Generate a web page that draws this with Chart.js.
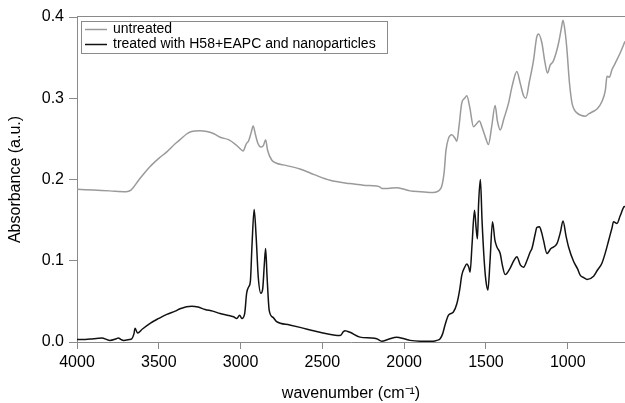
<!DOCTYPE html>
<html>
<head>
<meta charset="utf-8">
<script src="https://cdn.jsdelivr.net/npm/chart.js@4/dist/chart.umd.min.js"></script>
<style>
html,body{margin:0;padding:0;background:#fff;}
canvas{display:block;}
</style>
</head>
<body>
<canvas id="c" width="625" height="403"></canvas>
<script>
// ---- data ----
const seriesLabels = ["untreated", "treated with H58+EAPC and nanoparticles"];

const untreatedWavenumber = [4000,3900,3800,3700,3670,3620,3553,3500,3451,3400,3370,3330,3300,3250,3206,3160,3125,3074,3030,2992,2985,2965,2950,2935,2923,2910,2895,2875,2860,2847,2835,2810,2780,2739,2637,2550,2453,2331,2250,2168,2150,2137,2100,2045,2000,1964,1900,1821,1790,1770,1755,1745,1730,1709,1690,1678,1665,1648,1630,1617,1600,1576,1560,1540,1525,1515,1500,1485,1465,1444,1430,1413,1390,1362,1340,1311,1290,1270,1256,1235,1209,1190,1179,1158,1140,1124,1107,1090,1071,1056,1040,1029,1015,1005,990,974,960,944,920,893,870,842,820,791,770,760,745,730,710,679,650];
const untreatedAbsorbance = [0.188,0.187,0.186,0.185,0.187,0.200,0.216,0.226,0.234,0.244,0.249,0.256,0.259,0.260,0.259,0.256,0.252,0.249,0.243,0.236,0.235,0.244,0.248,0.258,0.266,0.256,0.245,0.240,0.242,0.249,0.236,0.224,0.220,0.218,0.213,0.206,0.199,0.195,0.193,0.192,0.191,0.189,0.189,0.190,0.188,0.186,0.185,0.184,0.186,0.192,0.210,0.235,0.250,0.255,0.251,0.247,0.265,0.294,0.300,0.303,0.290,0.265,0.268,0.272,0.265,0.259,0.250,0.243,0.265,0.291,0.272,0.261,0.275,0.294,0.315,0.333,0.318,0.303,0.300,0.320,0.347,0.375,0.379,0.368,0.345,0.331,0.341,0.345,0.356,0.368,0.385,0.396,0.380,0.360,0.320,0.294,0.286,0.282,0.279,0.278,0.281,0.284,0.287,0.296,0.310,0.327,0.326,0.335,0.343,0.356,0.370];

const treatedWavenumber = [4000,3950,3900,3849,3800,3760,3747,3730,3716,3680,3665,3652,3645,3630,3600,3553,3500,3451,3400,3370,3298,3260,3217,3170,3125,3080,3043,3023,3006,2992,2975,2963,2950,2940,2930,2917,2905,2892,2876,2865,2855,2847,2838,2825,2800,2780,2700,2637,2515,2392,2370,2362,2345,2331,2270,2200,2168,2137,2100,2045,2000,1964,1903,1821,1800,1780,1765,1750,1729,1699,1678,1660,1648,1630,1617,1605,1597,1585,1570,1560,1552,1545,1534,1524,1511,1500,1488,1475,1460,1445,1433,1413,1400,1383,1352,1330,1311,1290,1270,1250,1229,1219,1200,1189,1173,1160,1148,1127,1103,1066,1045,1029,1010,995,964,940,923,900,882,842,820,791,770,750,730,720,699,680,658,650];
const treatedAbsorbance = [0.003,0.003,0.004,0.005,0.002,0.004,0.005,0.003,0.002,0.003,0.004,0.010,0.017,0.011,0.016,0.023,0.029,0.034,0.038,0.041,0.044,0.043,0.040,0.038,0.035,0.033,0.031,0.029,0.033,0.029,0.035,0.060,0.068,0.075,0.120,0.163,0.130,0.080,0.060,0.065,0.095,0.115,0.080,0.039,0.030,0.025,0.021,0.018,0.012,0.008,0.013,0.014,0.013,0.012,0.006,0.005,0.004,0.001,0.003,0.006,0.004,0.002,0.001,0.001,0.002,0.004,0.010,0.021,0.033,0.037,0.047,0.065,0.082,0.092,0.096,0.092,0.086,0.120,0.162,0.140,0.127,0.170,0.200,0.150,0.101,0.075,0.064,0.100,0.148,0.125,0.117,0.109,0.095,0.083,0.091,0.100,0.105,0.095,0.092,0.100,0.111,0.115,0.132,0.141,0.142,0.135,0.125,0.109,0.115,0.121,0.135,0.149,0.130,0.117,0.099,0.090,0.082,0.079,0.077,0.081,0.088,0.097,0.110,0.125,0.140,0.148,0.146,0.155,0.166,0.167];

const xTicks = [4000,3500,3000,2500,2000,1500,1000];
const yTicks = [0.0,0.1,0.2,0.3,0.4];
const xTitle = "wavenumber (cm\u207B\u00B9)";
const yTitle = "Absorbance (a.u.)";

// ---- chart ----
const FONT = "'Liberation Sans', Arial, Helvetica, sans-serif";
const AXIS = "#8a8a8a";
const colors = ["#9a9a9a", "#111111"];

function pts(xs, ys){ return xs.map((x,i)=>({x:x, y:ys[i]})); }

const frameLegend = {
  id: 'frameLegend',
  afterDraw(chart){
    const ctx = chart.ctx, a = chart.chartArea;
    ctx.save();
    ctx.strokeStyle = AXIS; ctx.lineWidth = 1;
    ctx.beginPath(); ctx.moveTo(a.left, a.top - 0.5); ctx.lineTo(a.right, a.top - 0.5); ctx.stroke();
    const bx = 81.5, by = 21.5, bw = 306, bh = 32;
    ctx.fillStyle = "#fff"; ctx.fillRect(bx, by, bw, bh);
    ctx.strokeStyle = AXIS; ctx.strokeRect(bx, by, bw, bh);
    ctx.font = "14px " + FONT; ctx.textBaseline = "middle"; ctx.fillStyle = "#000";
    chart.data.datasets.forEach((ds, i) => {
      const yy = 29.5 + i * 15;
      ctx.strokeStyle = ds.borderColor; ctx.lineWidth = 1.5;
      ctx.beginPath(); ctx.moveTo(85, yy); ctx.lineTo(107, yy); ctx.stroke();
      ctx.fillText(ds.label, 113, yy);
    });
    ctx.restore();
  }
};

new Chart(document.getElementById('c'), {
  type: 'line',
  data: {
    datasets: [
      { label: seriesLabels[0], data: pts(untreatedWavenumber, untreatedAbsorbance), borderColor: colors[0], borderWidth: 1.5, pointRadius: 0, cubicInterpolationMode: 'monotone', fill: false },
      { label: seriesLabels[1], data: pts(treatedWavenumber, treatedAbsorbance), borderColor: colors[1], borderWidth: 1.5, pointRadius: 0, cubicInterpolationMode: 'monotone', fill: false }
    ]
  },
  options: {
    responsive: false,
    animation: false,
    devicePixelRatio: 1,
    layout: { padding: { top: 17, right: 0, left: 0, bottom: 0 } },
    plugins: { legend: { display: false }, tooltip: { enabled: false } },
    scales: {
      x: {
        type: 'linear', reverse: true, min: 650, max: 4000,
        afterBuildTicks(s){ s.ticks = xTicks.map(v => ({value: v})); },
        afterFit(s){ s.height = 61; },
        ticks: { font: { family: FONT, size: 16 }, color: '#000', padding: 4, maxRotation: 0, autoSkip: false, callback: v => String(v) },
        grid: { display: true, drawOnChartArea: false, drawTicks: true, tickLength: 7, color: AXIS },
        border: { display: true, color: AXIS, width: 1 },
        title: { display: true, text: xTitle, font: { family: FONT, size: 16 }, color: '#000', padding: { top: 4, bottom: 0 } }
      },
      y: {
        type: 'linear', min: 0, max: 0.4,
        afterBuildTicks(s){ s.ticks = yTicks.map(v => ({value: v})); },
        afterFit(s){ s.width = 77; },
        ticks: { font: { family: FONT, size: 16 }, color: '#000', padding: 5, callback: v => Number(v).toFixed(1) },
        grid: { display: true, drawOnChartArea: false, drawTicks: true, tickLength: 8, color: AXIS },
        border: { display: true, color: AXIS, width: 1 },
        title: { display: true, text: yTitle, font: { family: FONT, size: 16 }, color: '#000', padding: { top: 6, bottom: 0 } }
      }
    }
  },
  plugins: [frameLegend]
});
</script>
</body>
</html>
